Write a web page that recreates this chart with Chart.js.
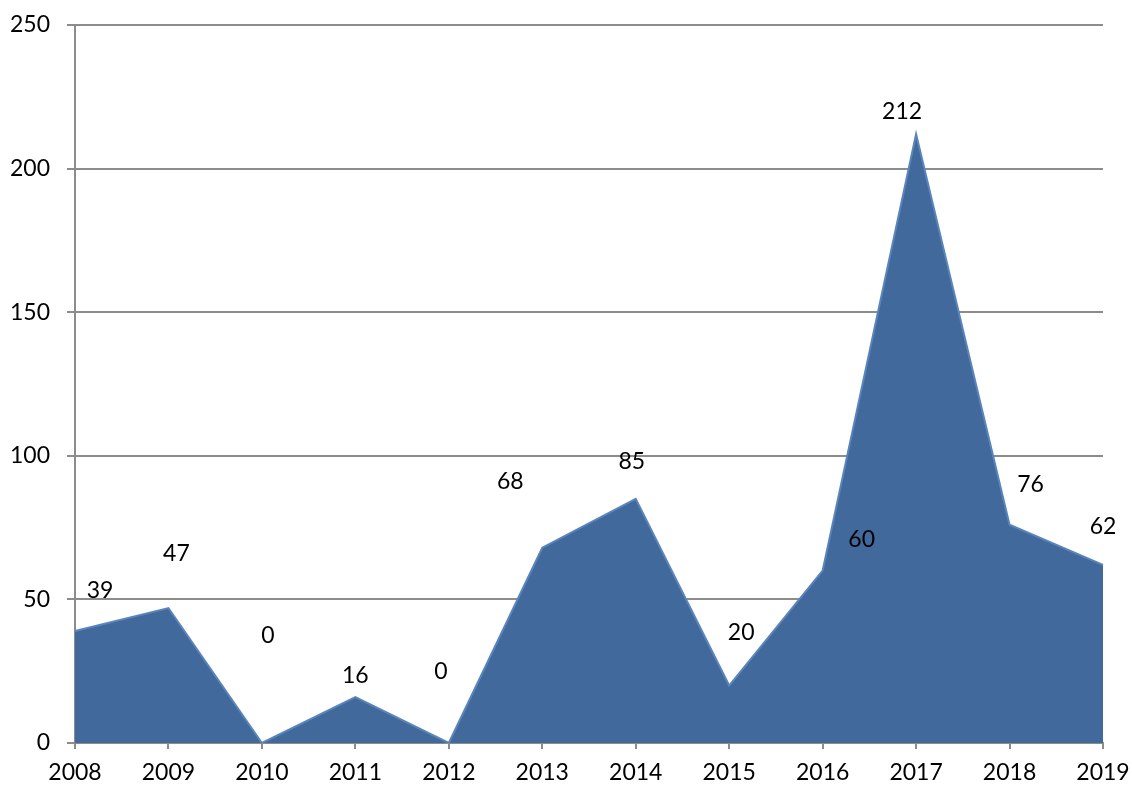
<!DOCTYPE html>
<html>
<head>
<meta charset="utf-8">
<script src="https://cdn.jsdelivr.net/npm/chart.js@4"></script>
<style>
  html, body { margin: 0; padding: 0; background: #fff; }
  #wrap { width: 1132px; height: 787px; }
</style>
</head>
<body>
<div id="wrap"><canvas id="chart" width="1132" height="787"></canvas></div>
<script>
// years and counts
const years = ['2008', '2009', '2010', '2011', '2012', '2013', '2014', '2015', '2016', '2017', '2018', '2019'];
const counts = [39, 47, 0, 16, 0, 68, 85, 20, 60, 212, 76, 62];
const yTicks = [0, 50, 100, 150, 200, 250];

// where each value label sits relative to its point (px)
const labelShift = [[25, -40], [8, -54], [6, -107], [0, -21], [-8, -71], [-32, -66], [-4, -37], [12, -53], [39, -31], [-14, -23], [21, -40], [0, -38]];

// draws the numbers next to the points
const valueLabels = {
  id: 'valueLabels',
  afterDatasetsDraw(chart) {
    const ctx = chart.ctx;
    const meta = chart.getDatasetMeta(0);
    ctx.save();
    ctx.font = '23px Lato';
    ctx.fillStyle = '#000';
    ctx.textAlign = 'center';
    ctx.textBaseline = 'middle';
    meta.data.forEach((pt, i) => {
      ctx.fillText(String(counts[i]), pt.x + labelShift[i][0], pt.y + labelShift[i][1]);
    });
    ctx.restore();
  }
};

const ctx = document.getElementById('chart').getContext('2d');
new Chart(ctx, {
  type: 'line',
  data: {
    labels: years,
    datasets: [{
      data: counts,
      fill: 'origin',
      backgroundColor: '#41699c',
      borderColor: '#5a85bb',
      borderWidth: 2,
      pointRadius: 0,
      tension: 0
    }]
  },
  options: {
    responsive: false,
    animation: false,
    layout: { padding: { top: 25, right: 29, left: 0, bottom: 0 } },
    plugins: { legend: { display: false }, tooltip: { enabled: false } },
    scales: {
      x: {
        offset: false,
        afterFit: scale => {
          scale.height = 44;
          scale.paddingLeft = 0;
          scale.paddingRight = 0;
        },
        grid: { drawOnChartArea: false, drawTicks: true, tickLength: 6, color: '#8c8c8c', lineWidth: 2 },
        border: { display: true, color: '#8c8c8c', width: 2 },
        ticks: { color: '#000', font: { family: 'Lato', size: 23 }, padding: 10, maxRotation: 0, autoSkip: false }
      },
      y: {
        min: 0,
        max: 250,
        afterFit: scale => {
          scale.width = 75;
          scale.paddingTop = 0;
          scale.paddingBottom = 0;
        },
        afterBuildTicks: scale => { scale.ticks = yTicks.map(v => ({ value: v })); },
        grid: { drawTicks: true, tickLength: 8, color: '#8c8c8c', lineWidth: 2 },
        border: { display: true, color: '#8c8c8c', width: 2 },
        ticks: { color: '#000', font: { family: 'Lato', size: 23 }, padding: 17 }
      }
    }
  },
  plugins: [valueLabels]
});
</script>
</body>
</html>
